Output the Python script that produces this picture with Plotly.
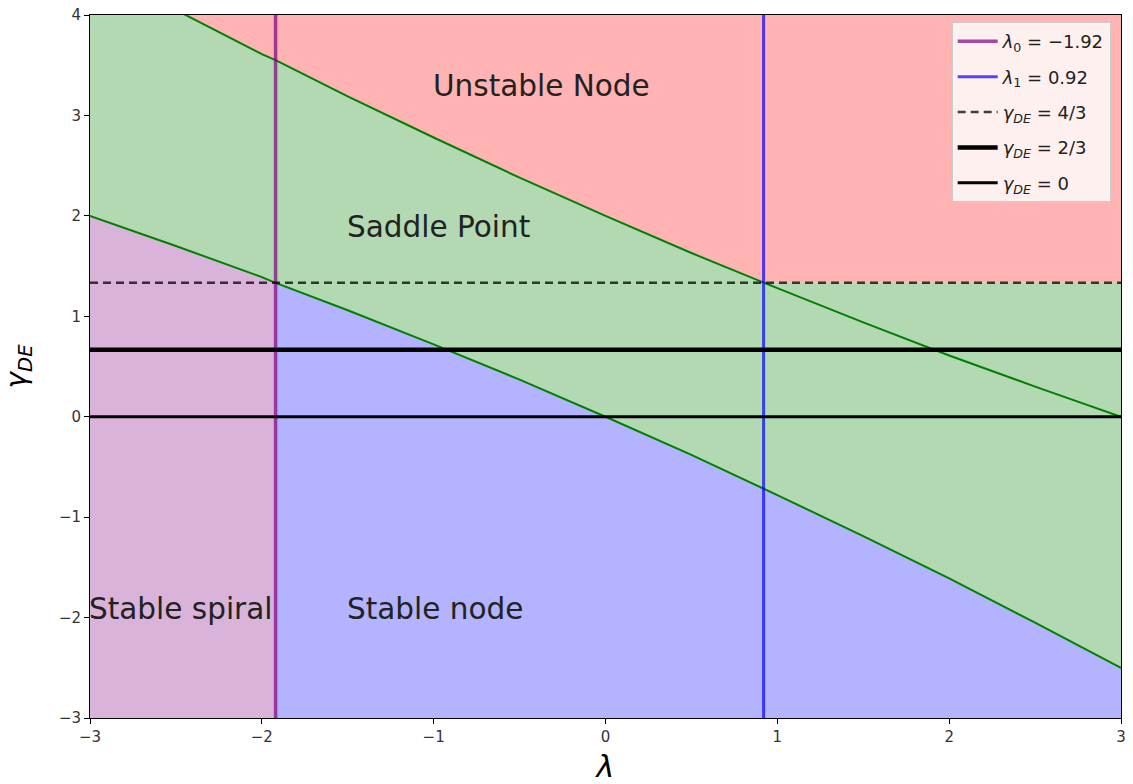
import numpy as np
import plotly.graph_objects as go

# Sampled boundary curves of the stability regions (gamma_DE vs lambda)
lam = [-3.0, -2.5, -2.0, -1.92, -1.5, -1.0, -0.5, 0.0, 0.5, 0.92, 1.0, 1.5, 2.0, 2.5, 3.0]
gamma_lower = [2.0, 1.70, 1.39, 1.333, 1.06, 0.72, 0.37, 0.0, -0.38, -0.71, -0.78, -1.19, -1.61, -2.05, -2.5]
gamma_upper = [4.5, 4.05, 3.61, 3.55, 3.19, 2.78, 2.38, 2.0, 1.63, 1.333, 1.28, 0.94, 0.61, 0.30, 0.0]

lambda_0 = -1.92
lambda_1 = 0.92
gamma_levels = [4 / 3, 2 / 3, 0.0]

region_labels = ["Unstable Node", "Saddle Point", "Stable spiral", "Stable node"]
region_pos = [(-1.0, 3.2), (-1.5, 1.8), (-3.0, -2.0), (-1.5, -2.0)]

X_MIN, X_MAX, Y_MIN, Y_MAX = -3, 3, -3, 4
TOP = 5.0

lam_a = np.array(lam)
low_a = np.array(gamma_lower)
up_a = np.array(gamma_upper)
ceil_a = np.maximum(up_a, gamma_levels[0])

fig = go.Figure()


def poly(xs, ys, color):
    fig.add_trace(go.Scatter(x=list(xs), y=list(ys), fill="toself", fillcolor=color,
                             mode="none", hoverinfo="skip", showlegend=False))


# Unstable node: above the upper curve / gamma = 4/3
poly(np.concatenate([lam_a, lam_a[::-1]]),
     np.concatenate([ceil_a, np.full(len(lam_a), TOP)]), "rgb(255,179,179)")
# Saddle point: between lower curve and the upper boundary
poly(np.concatenate([lam_a, lam_a[::-1]]),
     np.concatenate([low_a, ceil_a[::-1]]), "rgb(179,217,179)")
# Stable spiral (lambda < lambda_0) and stable node (lambda > lambda_0)
left = lam_a <= lambda_0
right = lam_a >= lambda_0
poly(np.concatenate([lam_a[left], [lambda_0, X_MIN]]),
     np.concatenate([low_a[left], [Y_MIN - 1, Y_MIN - 1]]), "rgb(217,179,217)")
poly(np.concatenate([lam_a[right], [X_MAX, lambda_0]]),
     np.concatenate([low_a[right], [Y_MIN - 1, Y_MIN - 1]]), "rgb(179,179,255)")

# Boundary curves
for g in (gamma_lower, gamma_upper):
    fig.add_trace(go.Scatter(x=lam, y=g, mode="lines", line=dict(color="green", width=2),
                             hoverinfo="skip", showlegend=False))

# Vertical eigenvalue lines
fig.add_trace(go.Scatter(x=[lambda_0, lambda_0], y=[Y_MIN, Y_MAX], mode="lines",
                         line=dict(color="rgba(128,0,128,0.7)", width=3.5),
                         name="<i>λ</i><sub>0</sub> = −1.92", legendgroup="a"))
fig.add_trace(go.Scatter(x=[lambda_1, lambda_1], y=[Y_MIN, Y_MAX], mode="lines",
                         line=dict(color="rgba(0,0,255,0.7)", width=3),
                         name="<i>λ</i><sub>1</sub> = 0.92", legendgroup="b"))

# Horizontal gamma_DE levels
fig.add_trace(go.Scatter(x=[X_MIN, X_MAX], y=[gamma_levels[0]] * 2, mode="lines",
                         line=dict(color="rgba(0,0,0,0.75)", width=2.5, dash="8px,5px"),
                         name="<i>γ<sub>DE</sub></i> = 4/3", legendgroup="c"))
fig.add_trace(go.Scatter(x=[X_MIN, X_MAX], y=[gamma_levels[1]] * 2, mode="lines",
                         line=dict(color="black", width=4.5),
                         name="<i>γ<sub>DE</sub></i> = 2/3", legendgroup="d"))
fig.add_trace(go.Scatter(x=[X_MIN, X_MAX], y=[gamma_levels[2]] * 2, mode="lines",
                         line=dict(color="black", width=3),
                         name="<i>γ<sub>DE</sub></i> = 0", legendgroup="e"))

for text, (x, y) in zip(region_labels, region_pos):
    fig.add_annotation(x=x, y=y, text=text, showarrow=False, xanchor="left", yanchor="bottom",
                       yshift=-10, xshift=-3, font=dict(size=29.5, color="#222222",
                                                        family="DejaVu Sans"))

axis_common = dict(showline=True, linecolor="black", linewidth=1, mirror=True,
                   ticks="outside", ticklen=5, tickcolor="black", showgrid=False,
                   zeroline=False, automargin=False,
                   tickfont=dict(size=15, color="#333333"))

fig.update_layout(
    width=1133, height=784,
    margin=dict(l=90, r=12, t=15, b=66, pad=0),
    paper_bgcolor="white", plot_bgcolor="white",
    font=dict(family="DejaVu Sans", color="black"),
    xaxis=dict(range=[X_MIN, X_MAX], dtick=1, title=dict(text="<i>λ</i>", font=dict(size=30),
                                                          standoff=14), **axis_common),
    yaxis=dict(range=[Y_MIN, Y_MAX], dtick=1, title=dict(text="<i>γ<sub>DE</sub></i>",
                                                          font=dict(size=28), standoff=24),
               **axis_common),
    legend=dict(x=0.99, y=0.99, xanchor="right", yanchor="top",
                bgcolor="rgba(255,255,255,0.8)", bordercolor="#cccccc", borderwidth=1,
                font=dict(size=18, color="#222222"), tracegroupgap=9,
                itemwidth=40),
    showlegend=True,
)

fig.write_html("out.html")
